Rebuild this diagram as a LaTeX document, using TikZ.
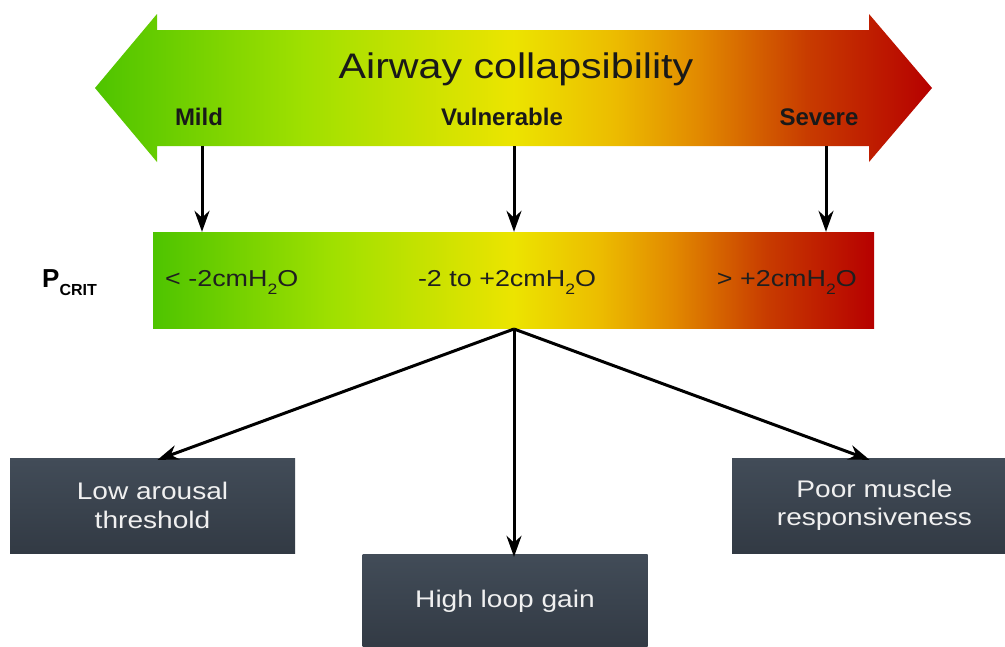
\documentclass[tikz,border=0pt]{standalone}
\usepackage{fontspec}
\setmainfont{Liberation Sans}[FakeStretch=1.17]
\newfontfamily\labelfont{Liberation Sans}
\newfontfamily\titlefont{Liberation Sans}[FakeStretch=1.16]
\usetikzlibrary{arrows.meta}

% colour ramp of the collapsibility scale
\definecolor{cgreen}{RGB}{78,196,0}
\definecolor{clime}{RGB}{160,224,0}
\definecolor{cyellow}{RGB}{236,228,0}
\definecolor{camber}{RGB}{236,188,0}
\definecolor{corange}{RGB}{226,138,0}
\definecolor{cdorange}{RGB}{200,60,0}
\definecolor{cred}{RGB}{182,0,0}
\definecolor{boxtop}{RGB}{66,76,88}
\definecolor{boxbot}{RGB}{50,58,68}
\definecolor{boxtext}{RGB}{240,240,240}

% path spans 25bp..75bp of the shading
\pgfdeclarehorizontalshading{collapse}{100bp}{%
  color(0bp)=(cgreen); color(25bp)=(cgreen); color(37.5bp)=(clime);
  color(50bp)=(cyellow); color(56bp)=(camber); color(61bp)=(corange);
  color(67.5bp)=(cdorange); color(75bp)=(cred); color(100bp)=(cred)}

\newcommand{\subtwo}{\raisebox{-8pt}{\fontsize{15}{15}\selectfont 2}}

\tikzset{
  scalebar/.style={shading=collapse, draw=none},
  levellabel/.style={font=\labelfont\bfseries\fontsize{24}{28}\selectfont, text=black!90, inner sep=0pt},
  rangetext/.style={font=\fontsize{23}{27}\selectfont, text=black!88, inner sep=0pt},
  traitbox/.style={top color=boxtop, bottom color=boxbot, draw=none,
    minimum width=285pt, minimum height=95pt, text=boxtext, align=center,
    font=\fontsize{24}{28.5}\selectfont, inner sep=0pt},
  link/.style={draw=black, line width=3pt, -{Stealth[length=21pt,width=15pt]}}
}

\begin{document}
\begin{tikzpicture}[x=1pt, y=-1pt]
\useasboundingbox[fill=white] (0,0) rectangle (1005,646);

% double-headed scale arrow
\path[scalebar] (95,88) -- (157,14) -- (157,30) -- (869,30) -- (869,14)
  -- (932,88) -- (869,162) -- (869,146) -- (157,146) -- (157,162) -- cycle;

\node[font=\titlefont\fontsize{35.5}{40}\selectfont, text=black!90, inner sep=0pt]
  (title) at (516,69) {Airway collapsibility};
\node[levellabel] (mild) at (199,117) {Mild};
\node[levellabel] (vuln) at (502,117) {Vulnerable};
\node[levellabel] (sev) at (819,117) {Severe};

\coordinate (mildfoot) at (202,146);
\coordinate (vulnfoot) at (514,146);
\coordinate (sevfoot) at (826,146);

% P_crit bar
\node[scalebar, minimum width=721pt, minimum height=96pt, inner sep=0pt]
  (bar) at (513.5,280) {};
\node[anchor=west, inner sep=0pt, font=\labelfont\bfseries] (pcrit) at (42,283)
  {\fontsize{26}{30}\selectfont P\raisebox{-8pt}{\fontsize{16}{18}\selectfont CRIT}};

\node[rangetext, anchor=west] (low) at (165,282) {< -2cmH\subtwo O};
\node[rangetext] (mid) at (507,282) {-2 to +2cmH\subtwo O};
\node[rangetext, anchor=east] (high) at (857,282) {> +2cmH\subtwo O};

\draw[link] (mildfoot) -- (mildfoot |- bar.north);
\draw[link] (vulnfoot) -- (vulnfoot |- bar.north);
\draw[link] (sevfoot) -- (sevfoot |- bar.north);

% trait boxes
\node[traitbox] (arousal) at (152.5,505.5) {Low arousal\\threshold};
\node[traitbox] (muscle) at (874.5,505.5) {Poor muscle\\responsiveness};
\node[traitbox] (loop) at (505,601.5) {High loop gain};

\coordinate (fork) at (514,329);
\draw[link] (fork) -- ([xshift=5pt, yshift=-2pt]arousal.north);
\draw[link] (fork) -- ([xshift=-5pt, yshift=-2pt]muscle.north);
\draw[link] (fork) -- ([xshift=9pt, yshift=-3pt]loop.north);
\end{tikzpicture}
\end{document}
